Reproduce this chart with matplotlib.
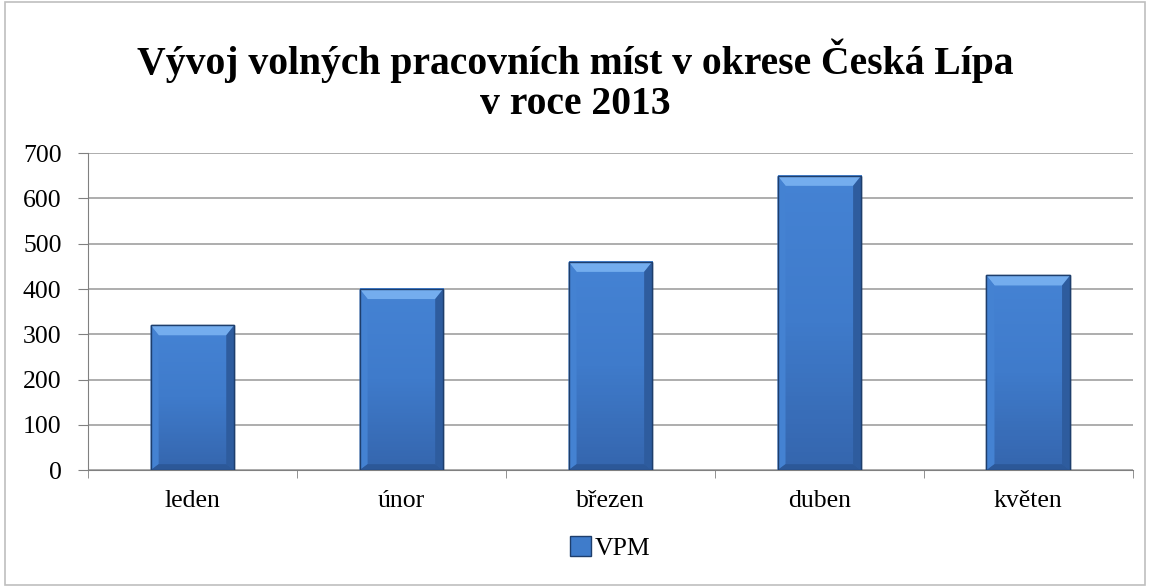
import numpy as np
import matplotlib.pyplot as plt
from matplotlib.patches import Rectangle, Polygon
from matplotlib.colors import LinearSegmentedColormap

months = ['leden', 'únor', 'březen', 'duben', 'květen']
vpm = [320, 400, 460, 650, 430]
series_name = 'VPM'
title = 'Vývoj volných pracovních míst v okrese Česká Lípa\nv roce 2013'

plt.rcParams['font.family'] = ['Liberation Serif', 'DejaVu Serif']

fig = plt.figure(figsize=(11.5, 5.87), dpi=100)
ax = fig.add_axes([0.0765, 0.199, 0.9085, 0.54])

# outer chart border
fig.patches.append(Rectangle((0.004, 0.004), 0.992, 0.992, transform=fig.transFigure,
                             fill=False, edgecolor='#BFBFBF', linewidth=1.2))

x = np.arange(len(months))
w = 0.40
bars = ax.bar(x, vpm, width=w, color='#3F7CCB', edgecolor='#1E3E6C', linewidth=1.0, zorder=3)

ax.set_xlim(-0.5, len(months) - 0.5)
ax.set_ylim(0, 700)

# bevel look: vertical gradient face + light top / dark bottom edges
grad = LinearSegmentedColormap.from_list('face', ['#3566AE', '#3F7BCB', '#4583D4'])
px_x = 1.0 / 209   # approx data units per pixel
px_y = 700 / 317
for b in bars:
    x0, y0 = b.get_x(), b.get_y()
    bw, bh = b.get_width(), b.get_height()
    ax.imshow(np.linspace(0, 1, 64).reshape(-1, 1), cmap=grad, aspect='auto', origin='lower',
              extent=(x0, x0 + bw, y0, y0 + bh), zorder=3.1)
    dx, dyt, dyb = 8 * px_x, 10 * px_y, 6 * px_y
    tl, tr = (x0, y0 + bh), (x0 + bw, y0 + bh)
    bl, br = (x0, y0), (x0 + bw, y0)
    itl, itr = (x0 + dx, y0 + bh - dyt), (x0 + bw - dx, y0 + bh - dyt)
    ibl, ibr = (x0 + dx, y0 + dyb), (x0 + bw - dx, y0 + dyb)
    ax.add_patch(Polygon([tl, tr, itr, itl], facecolor='#74ADEE', edgecolor='none', zorder=3.2))
    ax.add_patch(Polygon([tl, itl, ibl, bl], facecolor='#4482D2', edgecolor='none', zorder=3.2))
    ax.add_patch(Polygon([tr, itr, ibr, br], facecolor='#2E5C9E', edgecolor='none', zorder=3.2))
    ax.add_patch(Polygon([bl, ibl, ibr, br], facecolor='#2C5898', edgecolor='none', zorder=3.2))
    ax.add_patch(Rectangle((x0, y0), bw, bh, fill=False, edgecolor='#1E3E6C', linewidth=1.0,
                           zorder=3.3))

ax.set_yticks(range(0, 701, 100))
ax.set_xticks(x)
ax.set_xticklabels(months)
ax.set_xticks(np.arange(-0.5, len(months), 1), minor=True)
ax.tick_params(axis='x', which='major', length=0, pad=14, labelsize=18.5)
ax.tick_params(axis='x', which='minor', length=6, color='#808080')
ax.tick_params(axis='y', length=7, color='#808080', labelsize=18.5, pad=12)

ax.grid(axis='y', color='#A0A0A0', linewidth=1.2, zorder=0)
for s in ['top', 'right']:
    ax.spines[s].set_visible(False)
ax.spines['left'].set_color('#808080')
ax.spines['bottom'].set_color('#808080')

fig.text(0.5, 0.862, title, ha='center', va='center', fontsize=28.5, fontweight='bold',
         linespacing=1.1)

handle = Rectangle((0, 0), 1, 1, facecolor='#3F7CCB', edgecolor='#1E3E6C')
ax.legend([handle], [series_name], loc='center', bbox_to_anchor=(0.5, -0.245),
          frameon=False, fontsize=18.5, handlelength=0.8, handleheight=0.8, handletextpad=0.15)

fig.savefig('out.png', dpi=100)
